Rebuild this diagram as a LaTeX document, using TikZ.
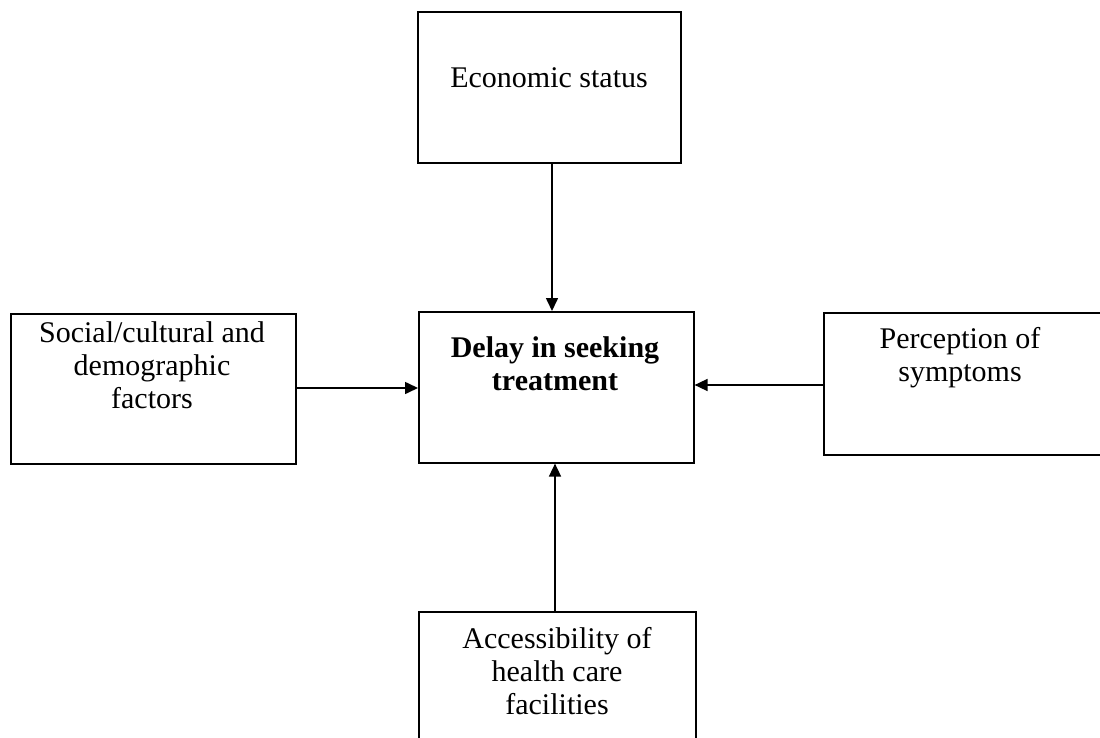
\documentclass[tikz,border=0pt]{standalone}
\usepackage{fontspec}
\setmainfont{Liberation Serif}
\usetikzlibrary{arrows.meta}
\begin{document}
\begin{tikzpicture}[x=1pt,y=-1pt,
  box/.style={draw,line width=1.6pt,inner sep=0pt,anchor=north west},
  lbl/.style={align=center,inner sep=0pt,font=\fontsize{30}{33}\selectfont},
  conn/.style={line width=1.6pt,-{Triangle[length=13pt,width=12pt]}}]
\useasboundingbox (0,0) rectangle (1100,738);
\clip (0,0) rectangle (1100,738);
\fill[white] (0,0) rectangle (1100,738);
% boxes
\node[box,minimum width=263pt,minimum height=151pt] (eco) at (417,11) {};
\node[box,minimum width=285pt,minimum height=150pt] (soc) at (10,313) {};
\node[box,minimum width=275pt,minimum height=151pt] (del) at (418,311) {};
\node[box,minimum width=285pt,minimum height=142pt] (per) at (823,312) {};
\node[box,minimum width=277pt,minimum height=160pt] (acc) at (418,611) {};
% labels
\node[lbl] (ecot) at (549,78) {Economic status};
\node[lbl] (soct) at (152,365) {Social/cultural and\\demographic\\factors};
\node[lbl,font=\fontsize{30}{33}\selectfont\bfseries] (delt) at (555,364) {Delay in seeking\\treatment};
\node[lbl] (pert) at (960,358) {Perception of\\symptoms};
\node[lbl] (acct) at (557,671) {Accessibility of\\health care\\facilities};
% connectors
\coordinate (ecoS) at (eco.south -| 552,0);
\draw[conn] (ecoS) -- (ecoS |- del.north);
\draw[conn] (soc.east |- 0,388) -- (del.west |- 0,388);
\draw[conn] (per.west |- 0,385) -- (del.east |- 0,385);
\coordinate (accN) at (acc.north -| 555,0);
\draw[conn] (accN) -- (accN |- del.south);
\end{tikzpicture}
\end{document}
